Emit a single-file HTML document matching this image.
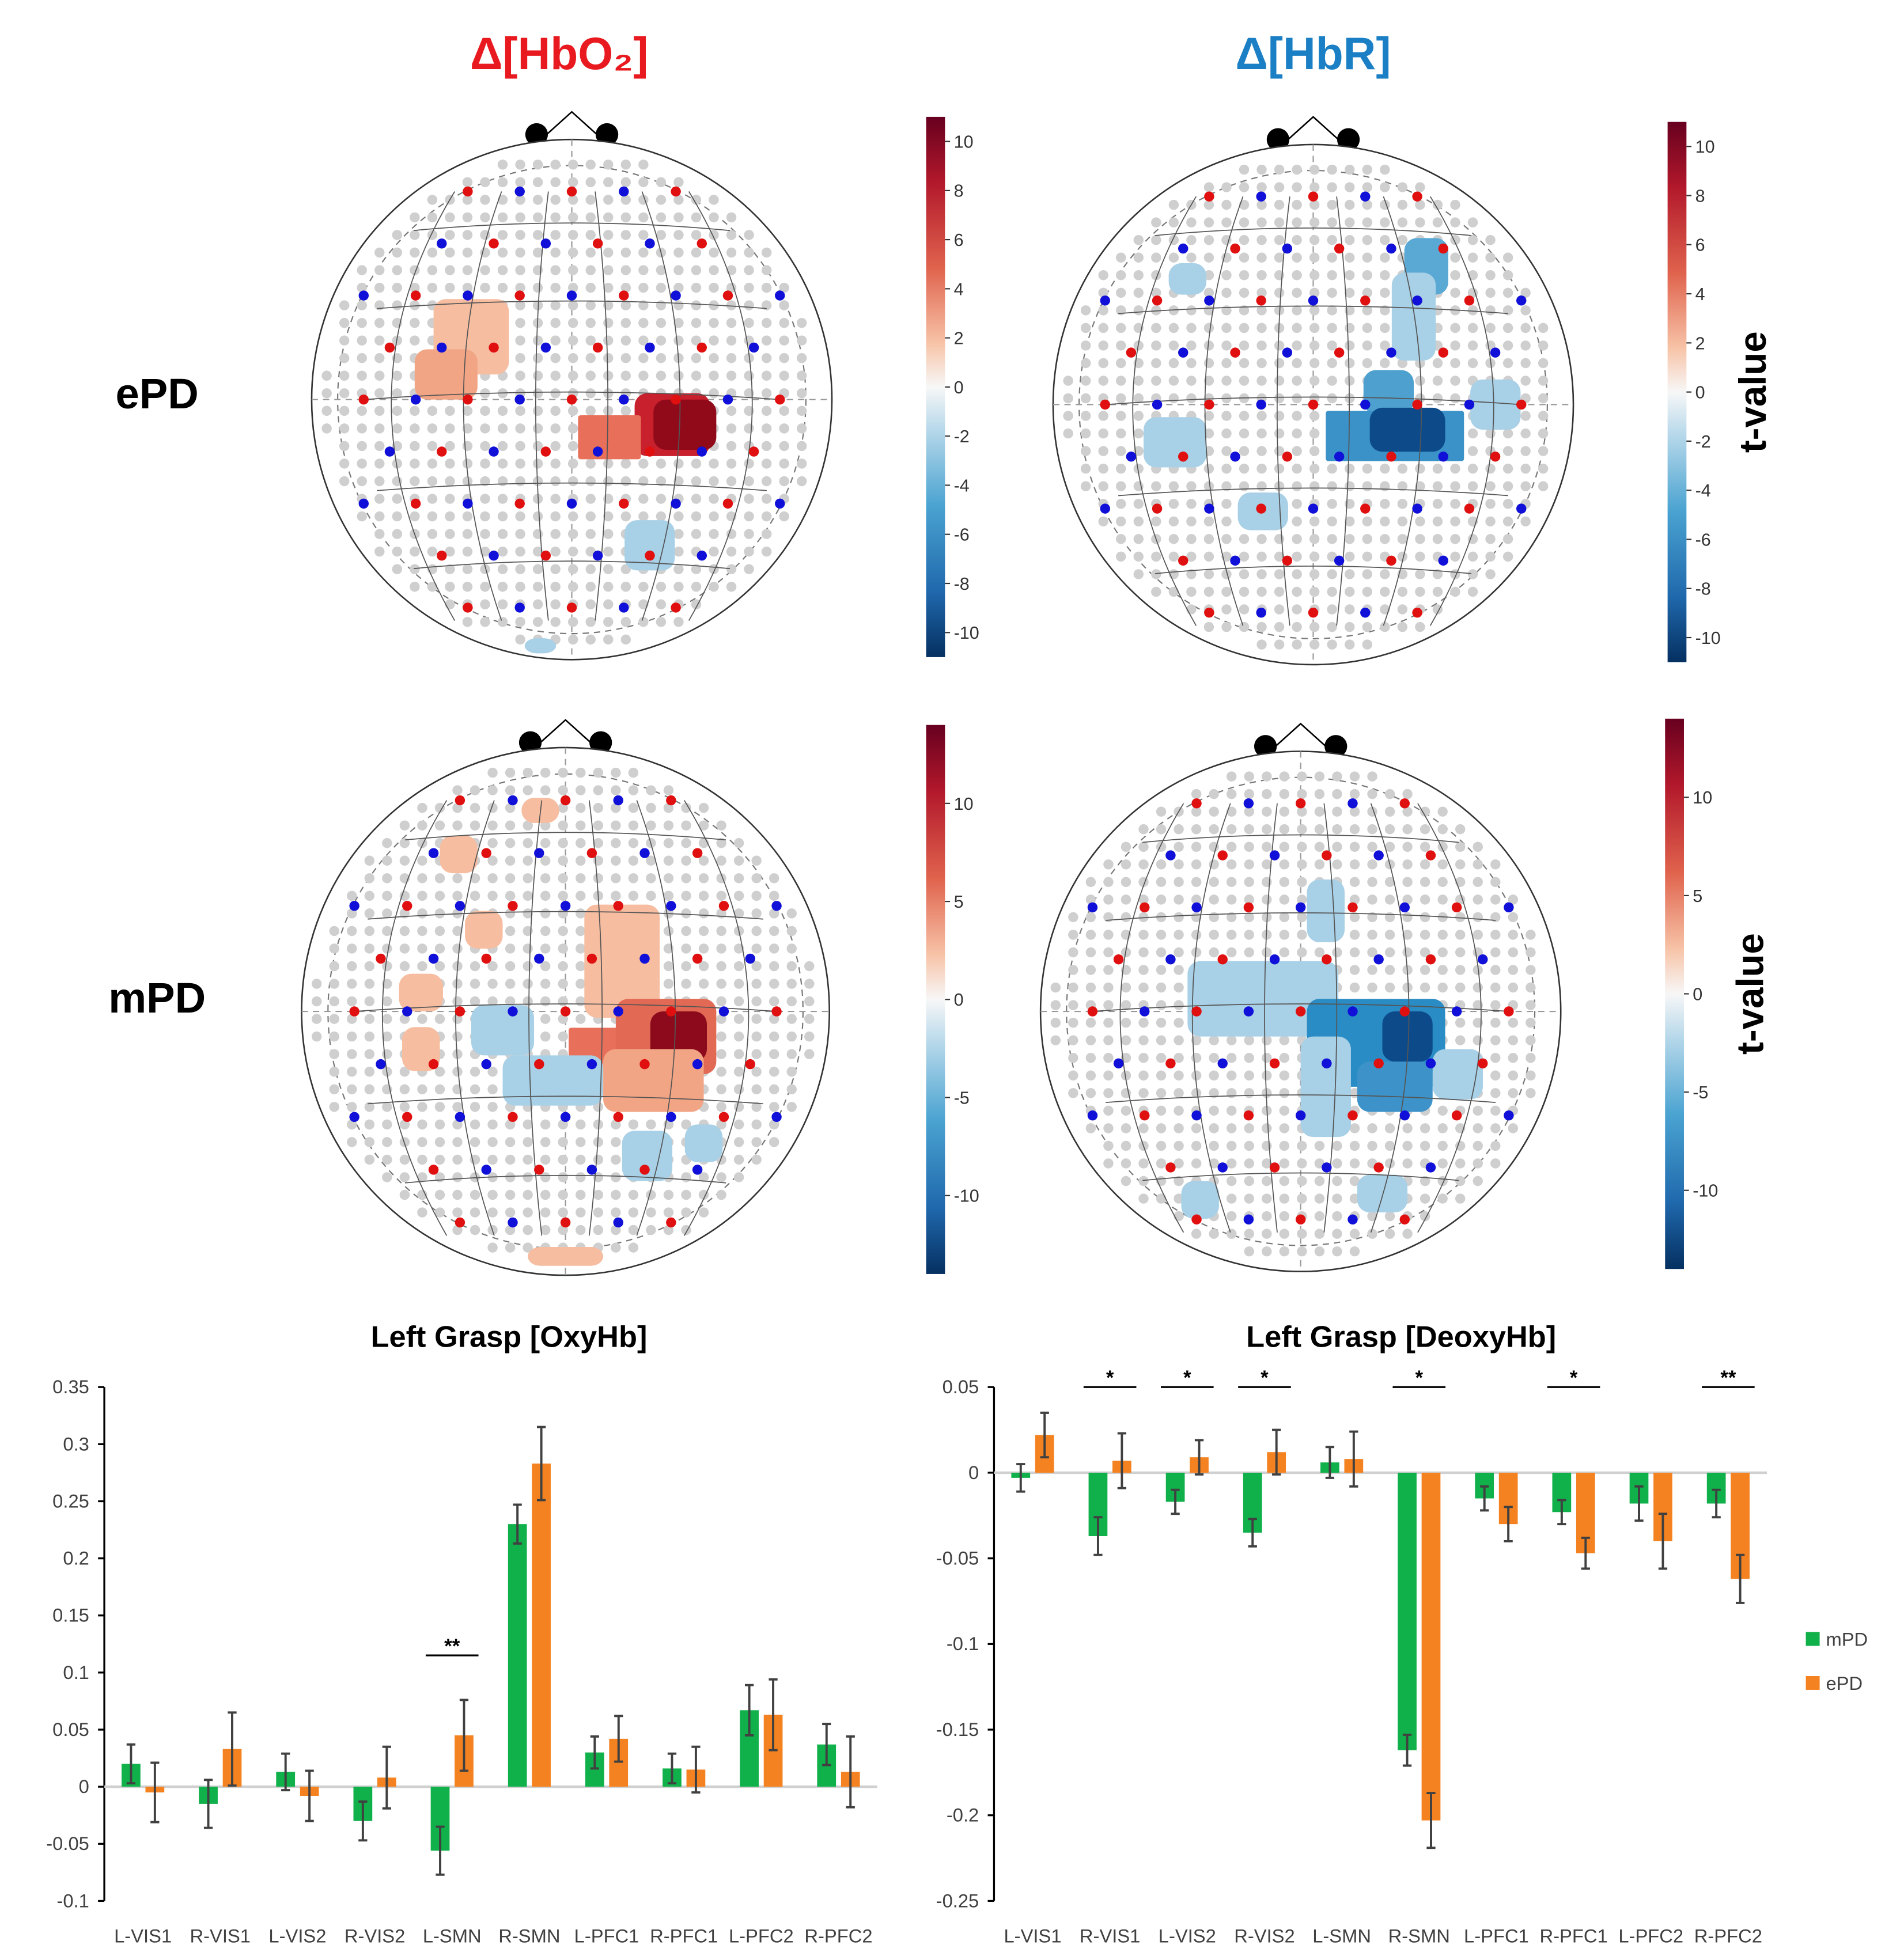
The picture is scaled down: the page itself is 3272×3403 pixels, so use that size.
<!DOCTYPE html>
<html><head><meta charset="utf-8"><style>
html,body{margin:0;padding:0;background:#fff;}
svg{display:block;}
text{font-family:"Liberation Sans",sans-serif;}
</style></head><body>
<svg id="fig" width="3272" height="3403" viewBox="0 0 1500 1560" xmlns="http://www.w3.org/2000/svg">
<defs>
<linearGradient id="cb" x1="0" y1="0" x2="0" y2="1">
<stop offset="0" stop-color="#67001f"/><stop offset="0.12" stop-color="#b2182b"/><stop offset="0.28" stop-color="#e0634d"/><stop offset="0.42" stop-color="#f7c4a8"/><stop offset="0.5" stop-color="#f7f7f7"/><stop offset="0.58" stop-color="#b6d8ea"/><stop offset="0.72" stop-color="#4aa3d1"/><stop offset="0.88" stop-color="#1f68ac"/><stop offset="1" stop-color="#053061"/>
</linearGradient>
</defs>
<text x="445" y="55" font-size="36" font-weight="bold" fill="#e8191f" text-anchor="middle">Δ[HbO₂]</text>
<text x="1045" y="55" font-size="36" font-weight="bold" fill="#1a7fc4" text-anchor="middle">Δ[HbR]</text>
<text x="125" y="325" font-size="34" font-weight="bold" fill="#000" text-anchor="middle">ePD</text>
<text x="125" y="806" font-size="34" font-weight="bold" fill="#000" text-anchor="middle">mPD</text>
<g id="heads"></g>
<g id="cbars"></g>
<g id="chart1"></g>
<g id="chart2"></g>
</svg>
<script>
const categories=["L-VIS1","R-VIS1","L-VIS2","R-VIS2","L-SMN","R-SMN","L-PFC1","R-PFC1","L-PFC2","R-PFC2"];
const oxyMPD=[0.02,-0.015,0.013,-0.03,-0.056,0.23,0.03,0.016,0.067,0.037];
const oxyEPD=[-0.005,0.033,-0.008,0.008,0.045,0.283,0.042,0.015,0.063,0.013];
const oxyMPDerr=[0.017,0.021,0.016,0.017,0.021,0.017,0.014,0.013,0.022,0.018];
const oxyEPDerr=[0.026,0.032,0.022,0.027,0.031,0.032,0.02,0.02,0.031,0.031];
const oxyTicks=[0.35,0.3,0.25,0.2,0.15,0.1,0.05,0,-0.05,-0.1];
const oxyTickLabels=["0.35","0.3","0.25","0.2","0.15","0.1","0.05","0","-0.05","-0.1"];
const oxySig=[{i:4,label:"**",v:0.115}];
const deoMPD=[-0.003,-0.037,-0.017,-0.035,0.006,-0.162,-0.015,-0.023,-0.018,-0.018];
const deoEPD=[0.022,0.007,0.009,0.012,0.008,-0.203,-0.03,-0.047,-0.04,-0.062];
const deoMPDerr=[0.008,0.011,0.007,0.008,0.009,0.009,0.007,0.007,0.01,0.008];
const deoEPDerr=[0.013,0.016,0.01,0.013,0.016,0.016,0.01,0.009,0.016,0.014];
const deoTicks=[0.05,0,-0.05,-0.1,-0.15,-0.2,-0.25];
const deoTickLabels=["0.05","0","-0.05","-0.1","-0.15","-0.2","-0.25"];
const deoSig=[{i:1,label:"*",v:0.05},{i:2,label:"*",v:0.05},{i:3,label:"*",v:0.05},{i:5,label:"*",v:0.05},{i:7,label:"*",v:0.05},{i:9,label:"**",v:0.05}];
const cb1Ticks=[10,8,6,4,2,0,-2,-4,-6,-8,-10];
const cb2Ticks=[10,5,0,-5,-10];

const NS="http://www.w3.org/2000/svg";
function mk(tag,attrs,parent,txt){const e=document.createElementNS(NS,tag);for(const k in attrs)e.setAttribute(k,attrs[k]);if(txt!==undefined)e.textContent=txt;parent.appendChild(e);return e;}

function barChart(g,cfg){
  const y=v=>cfg.y0+(cfg.vmax-v)/(cfg.vmax-cfg.vmin)*(cfg.y1-cfg.y0);
  const t=mk('text',{x:cfg.titleX,y:1072,'font-size':24,'font-weight':'bold','text-anchor':'middle',fill:'#000'},g,cfg.title);
  
  
  const ax=mk('line',{x1:cfg.ax,y1:cfg.y0,x2:cfg.ax,y2:cfg.y1,stroke:'#000','stroke-width':1.5},g);
  
  
  cfg.ticks.forEach((v,k)=>{
    mk('line',{x1:cfg.ax-5,y1:y(v),x2:cfg.ax,y2:y(v),stroke:'#000','stroke-width':1.5},g);
    const tl=mk('text',{x:cfg.ax-12,y:y(v)+5,'font-size':15,'text-anchor':'end',fill:'#404040'},g,cfg.tickLabels[k]);
    
    
  });
  const base=mk('line',{x1:cfg.ax,y1:y(0),x2:cfg.ax+615,y2:y(0),stroke:'#d0d0d0','stroke-width':2},g);
  
  
  const step=615/categories.length;
  categories.forEach((c,i)=>{
    const cx=cfg.ax+step*(i+0.5);
    [[cfg.m,cfg.me,'#10b04a',-17],[cfg.e,cfg.ee,'#f58220',2]].forEach((s,j)=>{
      const v=s[0][i],er=s[1][i];
      const r=mk('rect',{x:cx+s[3],y:Math.min(y(v),y(0)),width:15,height:Math.abs(y(v)-y(0)),fill:s[2]},g);
      
      
      const ex=cx+s[3]+7.5;
      mk('path',{d:`M${ex},${y(v+er)}V${y(v-er)}M${ex-3.5},${y(v+er)}h7M${ex-3.5},${y(v-er)}h7`,stroke:'#404040','stroke-width':1.8,fill:'none'},g);
    });
    const lb=mk('text',{x:cx,y:1546,'font-size':15,'text-anchor':'middle',fill:'#404040'},g,c);
    
    
  });
  cfg.sig.forEach(s=>{
    const cx=cfg.ax+step*(s.i+0.5),yy=y(s.v);
    mk('line',{x1:cx-21,y1:yy,x2:cx+21,y2:yy,stroke:'#000','stroke-width':1.5},g);
    const st=mk('text',{x:cx,y:yy-2,'font-size':16,'font-weight':'bold','text-anchor':'middle'},g,s.label);
    
    
  });
}
barChart(document.getElementById('chart1'),{title:'Left Grasp [OxyHb]',titleX:405,ax:83,y0:1104,y1:1513,vmax:0.35,vmin:-0.1,ticks:oxyTicks,tickLabels:oxyTickLabels,m:oxyMPD,e:oxyEPD,me:oxyMPDerr,ee:oxyEPDerr,sig:oxySig});
barChart(document.getElementById('chart2'),{title:'Left Grasp [DeoxyHb]',titleX:1115,ax:791,y0:1104,y1:1513,vmax:0.05,vmin:-0.25,ticks:deoTicks,tickLabels:deoTickLabels,m:deoMPD,e:deoEPD,me:deoMPDerr,ee:deoEPDerr,sig:deoSig});
const lg=document.getElementById('chart2');
const l1=mk('rect',{x:1437,y:1299,width:11,height:11,fill:'#10b04a'},lg);


mk('text',{x:1453,y:1310,'font-size':15,fill:'#404040'},lg,'mPD');
const l2=mk('rect',{x:1437,y:1334,width:11,height:11,fill:'#f58220'},lg);


mk('text',{x:1453,y:1345,'font-size':15,fill:'#404040'},lg,'ePD');

// colorbars
const cbg=document.getElementById('cbars');
function cbar(x,y0,y1,ticks,vmax,tlabel){
  const g=mk('g',{},cbg);
  
  
  mk('rect',{x:x,y:y0,width:15,height:y1-y0,fill:'url(#cb)'},g);
  ticks.forEach(v=>{
    const yy=y0+(vmax-v)/(2*vmax)*(y1-y0);
    mk('line',{x1:x+15,y1:yy,x2:x+19,y2:yy,stroke:'#333'},g);
    mk('text',{x:x+22,y:yy+5,'font-size':14,fill:'#333'},g,String(v));
  });
  if(tlabel){const t=mk('text',{x:x+78,y:(y0+y1)/2,'font-size':30,'font-weight':'bold','text-anchor':'middle',transform:`rotate(-90 ${x+78} ${(y0+y1)/2})`},g,'t-value');
    
    }
}
cbar(737,93,523,cb1Ticks,11,false);
cbar(1327,97,527,cb1Ticks,11,true);
cbar(737,577,1014,cb2Ticks,14,false);
cbar(1325,572,1010,cb2Ticks,14,true);

// heads
const hg=document.getElementById('heads');
function head(cx,cy,r,blobs,name){
  const g=mk('g',{},hg);
  
  
  mk('path',{d:`M${cx-30},${cy-r+5}L${cx},${cy-r-22}L${cx+30},${cy-r+5}`,stroke:'#000',fill:'none','stroke-width':1.2},g);
  mk('circle',{cx:cx-28,cy:cy-r-4,r:9,fill:'#000'},g);
  mk('circle',{cx:cx+28,cy:cy-r-4,r:9,fill:'#000'},g);
  mk('circle',{cx:cx,cy:cy,r:r,fill:'#fff',stroke:'#333','stroke-width':1.2},g);
  mk('circle',{cx:cx,cy:cy,r:r*0.9,fill:'none',stroke:'#777','stroke-dasharray':'5 4'},g);
  mk('line',{x1:cx-r,y1:cy,x2:cx+r,y2:cy,stroke:'#999','stroke-dasharray':'5 4'},g);
  mk('line',{x1:cx,y1:cy-r,x2:cx,y2:cy+r,stroke:'#999','stroke-dasharray':'5 4'},g);
  for(let yy=cy-r+20;yy<cy+r-10;yy+=14){for(let xx=cx-r+12;xx<cx+r;xx+=14){
    const dx=xx-cx,dy=yy-cy;if(dx*dx+dy*dy<(r*0.95)*(r*0.95))mk('circle',{cx:xx,cy:yy,r:4,fill:'#cfcfcf'},g);}}
  blobs.forEach(b=>mk('rect',{x:cx+b[0]-b[2]/2,y:cy+b[1]-b[3]/2,width:b[2],height:b[3],rx:b[5]||10,fill:b[4]},g));
  // meridian lines
  [-0.75,-0.45,-0.15,0.15,0.45,0.75].forEach(f=>mk('path',{d:`M${cx+f*r*0.6},${cy-r*0.8}Q${cx+f*r*1.25},${cy} ${cx+f*r*0.6},${cy+r*0.85}`,stroke:'#555',fill:'none','stroke-width':0.8},g));
  [-0.65,-0.35,0,0.35,0.65].forEach(f=>mk('path',{d:`M${cx-r*0.8*Math.sqrt(1-f*f)},${cy+f*r}Q${cx},${cy+f*r-12} ${cx+r*0.8*Math.sqrt(1-f*f)},${cy+f*r}`,stroke:'#555',fill:'none','stroke-width':0.8},g));
  let k=0;
  for(let j=-4;j<=4;j++){for(let i=-4;i<=4;i++){
    const x=cx+i*r*0.2+(j%2?r*0.1:0),y=cy+j*r*0.2;const dx=x-cx,dy=y-cy;
    if(dx*dx+dy*dy<(r*0.9)*(r*0.9)){mk('circle',{cx:x,cy:y,r:4,fill:(k++%2)?'#1010d8':'#e01010'},g);}}}
}
const peach='#f6bda0',lb='#a8d0e6',mb='#3a92c8',db='#0d4a8a';
head(455,318,207,[[-80,-50,60,60,peach],[-100,-20,50,40,'#f2a585'],[80,20,60,50,'#c8202c'],[90,20,50,40,'#900a1a'],[30,30,50,35,'#e8705a',2],[62,116,40,40,lb],[-25,196,25,12,lb]],'hbo2-epd-head');
head(1045,322,207,[[90,-110,35,45,'#5aa9d4'],[80,-70,35,70,lb],[-100,-100,30,25,lb],[-110,30,50,40,lb],[-40,85,40,30,lb],[60,-10,40,35,'#4ea0cf'],[65,25,110,40,mb,2],[75,20,60,35,db],[145,0,40,40,lb]],'hbr-epd-head');
head(450,805,210,[[-20,-160,30,20,peach],[-85,-125,30,30,peach],[-65,-65,30,30,peach],[-115,-15,35,30,peach],[-115,30,30,35,peach],[45,-40,60,90,peach],[35,30,65,34,'#e8705a',2],[80,20,80,60,'#e26a55'],[90,20,45,40,'#8c0a1c'],[70,55,80,50,'#f2a585'],[-50,15,50,40,lb],[-10,55,80,40,lb],[65,115,40,40,lb],[110,105,30,30,lb],[0,195,60,15,peach]],'hbo2-mpd-head');
head(1035,805,207,[[-30,-10,120,60,lb],[20,-80,30,50,lb],[60,25,110,70,'#2a8cc4'],[85,20,40,40,db],[75,60,60,40,'#3d93c9'],[125,50,40,40,lb],[20,60,40,80,lb],[-80,150,30,30,lb],[65,145,40,30,lb]],'hbr-mpd-head');
</script>
</body></html>
